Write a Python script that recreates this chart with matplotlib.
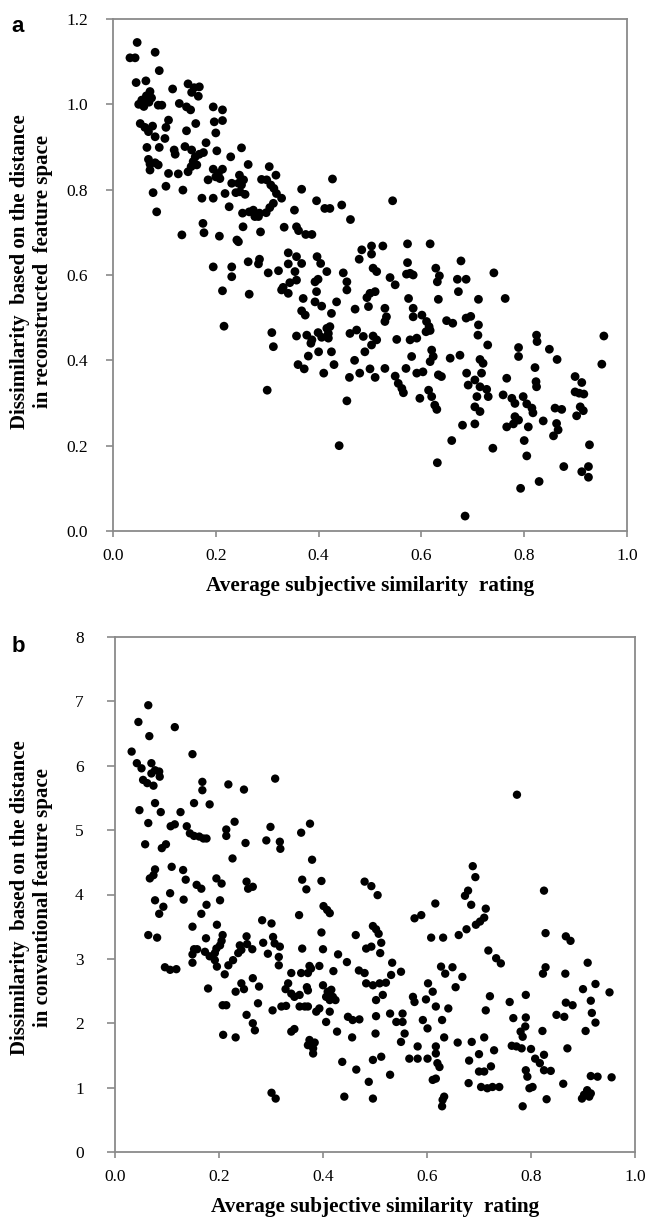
import matplotlib
matplotlib.use("Agg")
import matplotlib.pyplot as plt
import numpy as np

# ---------------- Panel a data ----------------
xa = [0.047,0.033,0.043,0.082,0.090,0.045,
0.064,0.072,0.065,0.075,0.056,0.050,0.060,0.070,
0.116,0.146,0.158,0.168,0.153,0.166,
0.088,0.095,0.129,0.143,0.151,
0.195,0.213,0.197,0.213,
0.053,0.062,0.069,0.077,0.082,0.103,0.108,0.101,0.143,0.161,
0.200,
0.066,0.090,0.119,0.121,0.140,0.153,0.160,0.168,0.176,0.156,0.163,0.152,0.181,0.202,0.229,
0.069,0.072,0.082,0.088,0.072,
0.108,0.127,0.146,
0.185,0.195,0.205,0.200,0.208,0.213,
0.231,0.244,0.246,
0.078,0.103,0.136,0.173,0.195,0.218,0.239,0.226,
0.085,
0.175,0.177,0.207,0.134,0.241,
0.195,0.231,0.231,
0.250,0.263,0.304,0.317,
0.289,0.299,0.307,0.313,0.318,0.328,
0.254,0.250,0.247,0.257,
0.367,0.427,0.544,
0.396,0.412,0.422,0.445,0.462,
0.353,
0.312,0.305,0.298,0.285,0.273,0.265,0.252,0.276,0.283,
0.253,0.287,
0.333,0.357,0.361,0.375,0.387,
0.244,
0.484,0.503,0.525,0.503,0.479,
0.573,0.573,0.578,
0.341,0.357,0.367,0.397,0.404,0.416,0.399,0.393,
0.263,0.285,0.283,
0.302,0.322,0.341,0.354,0.357,0.344,0.331,0.328,0.341,
0.213,0.265,
0.448,0.455,0.455,
0.506,0.513,0.539,0.549,
0.571,0.584,
0.396,0.370,0.393,0.406,0.435,0.471,0.494,0.500,0.510,0.497,0.529,0.532,0.529,
0.575,0.584,0.584,
0.367,0.374,0.425,0.422,0.416,0.419,
0.216,
0.309,0.312,0.357,0.377,0.387,0.399,0.406,0.419,0.461,0.474,0.487,0.506,0.513,0.503,0.552,0.578,0.591,
0.617,
0.628,0.635,0.631,
0.677,0.670,0.687,0.672,
0.741,0.763,0.711,0.633,
0.601,0.610,0.615,0.617,0.609,
0.649,0.661,0.687,0.696,0.711,0.710,0.729,
0.824,0.825,0.849,0.864,0.955,0.951,
0.789,0.789,0.821,0.823,0.824,0.766,
0.620,0.623,0.617,0.581,0.656,0.675,0.714,0.720,
0.529,0.570,0.591,0.603,0.633,0.639,0.549,0.555,0.562,0.565,0.614,0.620,0.626,0.630,0.597,
0.688,0.691,0.704,0.717,0.714,0.727,0.730,0.708,0.704,0.714,0.704,0.680,
0.759,0.776,0.782,0.798,0.805,0.815,0.817,0.782,0.789,0.779,0.766,0.808,0.837,0.860,0.873,0.863,0.866,0.857,
0.899,0.912,0.899,0.907,0.916,0.909,0.915,0.902,
0.659,0.739,0.800,0.805,0.927,0.877,0.912,0.925,0.925,0.631,0.829,0.793,
0.685,
0.300,0.360,0.372,0.380,0.385,0.400,0.410,0.425,0.440,0.455,0.470,0.480,0.490,0.500,0.510,0.460,0.430]
ya = [1.145,1.109,1.109,1.122,1.079,1.051,
1.055,1.030,1.020,1.015,1.010,1.000,0.995,1.005,
1.036,1.048,1.039,1.041,1.028,1.019,
0.998,0.998,1.002,0.994,0.987,
0.994,0.987,0.959,0.962,
0.955,0.946,0.936,0.949,0.924,0.946,0.963,0.920,0.938,0.955,
0.933,
0.899,0.899,0.893,0.883,0.901,0.893,0.877,0.883,0.887,0.866,0.858,0.854,0.910,0.891,0.877,
0.871,0.860,0.863,0.858,0.846,
0.838,0.837,0.842,
0.823,0.848,0.838,0.830,0.826,0.848,
0.815,0.815,0.834,
0.793,0.808,0.799,0.780,0.780,0.791,0.793,0.760,
0.748,
0.721,0.699,0.691,0.694,0.682,
0.619,0.619,0.596,
0.898,0.859,0.854,0.834,
0.824,0.823,0.811,0.803,0.791,0.780,
0.823,0.811,0.795,0.789,
0.801,0.825,0.774,
0.774,0.756,0.756,0.764,0.730,
0.752,
0.768,0.758,0.746,0.745,0.752,0.748,0.745,0.737,0.737,
0.713,0.701,
0.712,0.713,0.704,0.695,0.695,
0.678,
0.659,0.668,0.668,0.649,0.637,
0.673,0.629,0.604,
0.652,0.643,0.627,0.643,0.627,0.608,0.590,0.584,
0.631,0.637,0.626,
0.605,0.610,0.626,0.608,0.588,0.582,0.571,0.565,0.557,
0.563,0.555,
0.605,0.584,0.565,
0.616,0.608,0.594,0.577,
0.602,0.600,
0.561,0.545,0.537,0.527,0.537,0.520,0.547,0.557,0.561,0.526,0.522,0.502,0.491,
0.545,0.522,0.502,
0.516,0.506,0.510,0.479,0.475,0.463,
0.480,
0.465,0.432,0.457,0.459,0.448,0.465,0.454,0.452,0.463,0.471,0.456,0.457,0.448,0.436,0.449,0.448,0.452,
0.673,
0.616,0.598,0.584,
0.633,0.590,0.590,0.561,
0.605,0.545,0.543,0.543,
0.506,0.491,0.479,0.470,0.467,
0.493,0.487,0.499,0.503,0.483,0.459,0.436,
0.459,0.444,0.426,0.402,0.457,0.391,
0.430,0.409,0.383,0.350,0.338,0.358,
0.424,0.409,0.397,0.409,0.405,0.412,0.402,0.393,
0.381,0.381,0.370,0.373,0.366,0.362,0.363,0.346,0.334,0.324,0.330,0.315,0.295,0.285,0.311,
0.370,0.342,0.354,0.370,0.338,0.332,0.315,0.315,0.291,0.280,0.251,0.248,
0.319,0.311,0.299,0.315,0.298,0.288,0.277,0.268,0.260,0.251,0.244,0.244,0.258,0.288,0.285,0.252,0.237,0.223,
0.362,0.348,0.326,0.323,0.321,0.291,0.282,0.270,
0.212,0.194,0.212,0.176,0.202,0.151,0.139,0.151,0.126,0.160,0.116,0.100,
0.035,
0.330,0.390,0.380,0.410,0.440,0.420,0.370,0.420,0.200,0.305,0.400,0.370,0.420,0.380,0.360,0.360,0.390]

# ---------------- Panel b data ----------------
xb = [0.064,0.045,0.066,0.115,0.032,0.149,
0.042,0.051,0.070,0.077,0.085,0.070,0.054,0.062,0.074,0.086,
0.168,0.168,0.218,0.248,
0.047,0.077,0.088,0.064,0.126,0.115,0.107,0.152,0.182,
0.138,0.144,0.152,0.162,0.170,0.176,
0.230,0.214,0.214,0.251,0.226,
0.058,0.090,0.098,
0.077,0.074,0.067,0.109,0.131,0.136,0.157,0.166,0.195,0.205,0.202,0.253,0.256,0.265,
0.106,0.077,0.093,0.085,0.132,0.176,0.166,0.149,0.196,0.253,0.207,0.175,0.064,0.081,
0.152,0.149,0.158,0.173,0.182,0.192,0.195,0.202,0.205,
0.149,0.192,0.196,0.218,0.211,0.227,0.237,0.240,0.243,0.254,0.264,
0.096,0.106,0.118,
0.179,
0.207,0.214,0.232,0.243,0.248,0.265,0.277,0.275,
0.253,0.265,0.269,
0.208,0.232,
0.299,0.358,0.375,
0.291,0.317,0.318,
0.379,
0.360,0.368,0.397,
0.480,0.493,0.505,
0.576,0.589,0.616,0.608,
0.401,0.408,0.413,
0.354,
0.283,0.301,
0.397,
0.496,0.502,0.507,0.512,0.510,0.483,0.493,0.463,
0.304,0.307,0.317,0.315,0.315,0.285,0.294,
0.360,0.400,0.429,0.446,0.420,0.374,0.393,
0.339,0.358,0.371,0.377,0.333,0.328,0.339,0.345,0.355,0.369,0.371,
0.400,0.409,0.416,0.419,0.424,0.413,0.406,
0.469,0.480,0.483,0.496,0.509,0.521,0.531,0.533,0.550,0.515,0.502,
0.303,0.320,0.329,0.355,0.365,0.371,0.387,0.393,0.413,0.406,
0.339,0.345,
0.374,0.384,0.381,0.381,0.371,
0.427,0.456,0.448,0.457,0.470,0.502,0.501,0.529,0.541,0.553,0.557,0.550,0.553,
0.573,0.576,0.598,0.602,0.611,0.592,0.601,0.582,0.617,
0.566,0.582,0.601,0.617,0.620,
0.437,0.464,0.488,0.496,0.512,0.529,0.617,
0.301,0.309,0.441,0.496,
0.688,0.693,0.679,0.673,0.685,0.713,0.710,0.702,0.694,0.676,0.661,0.631,
0.825,
0.828,0.867,0.876,
0.718,0.733,0.742,
0.909,0.924,0.900,0.951,0.915,0.917,0.924,0.905,
0.828,0.823,0.866,
0.627,0.635,0.649,0.668,0.655,0.617,0.641,0.629,
0.721,0.713,0.759,0.790,0.766,0.790,0.789,0.780,0.784,0.822,0.849,0.864,0.867,0.880,
0.633,0.624,0.611,0.633,
0.659,0.686,0.710,0.729,0.700,0.681,0.723,0.710,0.700,0.680,0.704,0.716,0.726,0.739,
0.763,0.772,0.782,0.800,0.808,0.817,0.825,0.838,0.825,0.790,0.793,0.803,0.797,
0.870,
0.915,0.928,0.955,0.862,0.908,0.902,
0.630,0.629,0.784,0.830,0.898,0.912,0.915,
0.773,0.308]
yb = [6.94,6.68,6.46,6.60,6.22,6.18,
6.04,5.96,6.04,5.93,5.91,5.88,5.78,5.73,5.69,5.83,
5.75,5.62,5.71,5.63,
5.31,5.42,5.28,5.11,5.28,5.09,5.06,5.42,5.40,
5.06,4.95,4.91,4.90,4.87,4.87,
5.13,5.01,4.91,4.80,4.56,
4.78,4.72,4.78,
4.39,4.30,4.25,4.43,4.38,4.23,4.15,4.09,4.25,4.17,3.91,4.20,4.09,4.12,
4.02,3.91,3.81,3.70,3.92,3.84,3.70,3.50,3.53,3.35,3.37,3.32,3.37,3.33,
3.15,3.07,3.15,3.11,3.04,3.09,3.16,3.21,3.28,
2.94,2.98,2.88,2.90,2.76,2.98,3.09,3.21,3.14,3.23,3.15,
2.87,2.83,2.84,
2.54,
2.28,2.28,2.49,2.62,2.53,2.70,2.57,2.31,
2.13,2.00,1.89,
1.82,1.78,
5.05,4.96,5.10,
4.84,4.82,4.71,
4.54,
4.23,4.08,4.21,
4.20,4.13,3.99,
3.63,3.68,3.86,3.33,
3.82,3.76,3.71,
3.68,
3.60,3.55,
3.41,
3.51,3.46,3.39,3.25,3.09,3.16,3.19,3.37,
3.34,3.24,3.19,3.03,2.90,3.25,3.08,
3.16,3.15,3.07,2.95,2.81,2.89,2.89,
2.78,2.78,2.78,2.85,2.62,2.53,2.46,2.41,2.44,2.56,2.51,
2.59,2.49,2.52,2.41,2.36,2.36,2.41,
2.82,2.78,2.62,2.59,2.62,2.63,2.75,2.94,2.80,2.44,2.36,
2.20,2.26,2.27,2.26,2.26,2.26,2.18,2.23,2.18,2.02,
1.87,1.91,
1.74,1.70,1.61,1.53,1.66,
1.87,1.78,2.10,2.05,2.06,2.11,1.84,2.15,2.02,2.02,1.84,1.71,2.15,
2.41,2.33,2.37,2.62,2.49,2.05,1.92,1.64,1.64,
1.45,1.45,1.45,1.53,1.38,
1.40,1.28,1.09,1.43,1.48,1.20,1.14,
0.92,0.83,0.86,0.83,
4.44,4.27,4.06,3.98,3.84,3.78,3.64,3.58,3.53,3.46,3.37,3.33,
4.06,
3.40,3.35,3.28,
3.13,3.01,2.93,
2.94,2.61,2.53,2.48,2.35,2.16,2.01,1.88,
2.87,2.77,2.77,
2.88,2.77,2.87,2.72,2.56,2.26,2.23,2.05,
2.42,2.20,2.33,2.44,2.08,2.09,1.95,1.87,1.79,1.88,2.13,2.10,2.32,2.28,
1.78,1.32,1.12,0.86,
1.70,1.71,1.78,1.58,1.52,1.42,1.33,1.25,1.25,1.07,1.01,0.99,1.01,1.01,
1.65,1.64,1.61,1.60,1.45,1.38,1.27,1.26,1.51,1.27,1.17,1.01,0.99,
1.61,
1.18,1.17,1.16,1.06,0.96,0.89,
0.81,0.71,0.71,0.82,0.83,0.86,0.91,
5.55,5.80]

xticks = [0.0, 0.2, 0.4, 0.6, 0.8, 1.0]
yticks_a = [0.0, 0.2, 0.4, 0.6, 0.8, 1.0, 1.2]
yticks_b = [0, 1, 2, 3, 4, 5, 6, 7, 8]
xlabel = "Average subjective similarity  rating"
ylabel_a = ["Dissimilarity  based on the distance", "in reconstructed  feature space"]
ylabel_b = ["Dissimilarity  based on the distance", "in conventional feature space"]

SERIF = "Liberation Serif"
GRAY = "#8a8a8a"

fig = plt.figure(figsize=(6.46, 12.18), dpi=100)
W, H = 646, 1218

def make_ax(l, r, t, b):
    return fig.add_axes([l / W, 1 - b / H, (r - l) / W, (b - t) / H])

ax1 = make_ax(113, 627, 19, 531)
ax2 = make_ax(115, 635, 637, 1152)

def style(ax, ylen, ypad):
    for s in ax.spines.values():
        s.set_color(GRAY)
        s.set_linewidth(1.3)
    ax.tick_params(direction="out", width=1.2, color=GRAY,
                   labelsize=12.5, top=False, right=False)
    ax.tick_params(axis="x", length=4, pad=8)
    ax.tick_params(axis="y", length=ylen, pad=ypad)
    for lab in ax.get_xticklabels() + ax.get_yticklabels():
        lab.set_fontfamily(SERIF)

ax1.scatter(xa, ya, s=40, c="black", edgecolors="none", zorder=3)
ax1.set_xlim(0, 1.0)
ax1.set_ylim(0, 1.2)
ax1.set_xticks(xticks)
ax1.set_xticklabels([f"{v:.1f}" for v in xticks])
ax1.set_yticks(yticks_a)
ax1.set_yticklabels([f"{v:.1f}" for v in yticks_a])
style(ax1, 5, 13)

ax2.scatter(xb, yb, s=36, c="black", edgecolors="none", zorder=3)
ax2.set_xlim(0, 1.0)
ax2.set_ylim(0, 8)
ax2.set_xticks(xticks)
ax2.set_xticklabels([f"{v:.1f}" for v in xticks])
ax2.set_yticks(yticks_b)
ax2.set_yticklabels([str(v) for v in yticks_b])
style(ax2, 6, 16.5)

def px(x, y):
    return x / W, 1 - y / H

lab_kw = dict(fontfamily=SERIF, fontweight="bold", fontsize=15.3, ha="center", va="center")
fig.text(*px(370, 586), xlabel, **lab_kw)
fig.text(*px(375, 1207), xlabel, **lab_kw)

ylab_kw = dict(fontfamily=SERIF, fontweight="bold", fontsize=15, ha="center", va="center",
               rotation=90)
for (line1, line2), yc in ((ylabel_a, 272), (ylabel_b, 898)):
    fig.text(*px(20, yc), line1, **ylab_kw)
    fig.text(*px(43, yc), line2, **ylab_kw)

fig.text(*px(18, 27), "a", fontfamily="Liberation Sans", fontweight="bold",
         fontsize=16, ha="center", va="center")
fig.text(*px(18, 647), "b", fontfamily="Liberation Sans", fontweight="bold",
         fontsize=16, ha="center", va="center")

fig.savefig("out.png", dpi=100)
